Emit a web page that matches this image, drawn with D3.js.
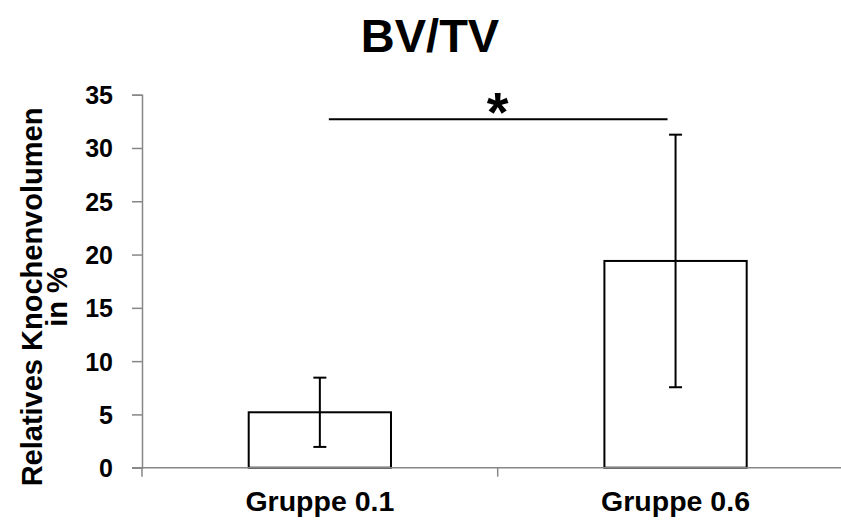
<!DOCTYPE html>
<html>
<head>
<meta charset="utf-8">
<script src="https://cdn.jsdelivr.net/npm/d3@7"></script>
<style>
  body { margin: 0; background: #fff; }
  svg { display: block; font-family: "Liberation Sans", Arial, sans-serif; font-weight: bold; }
</style>
</head>
<body>
<script>
// chart data
const groups = ['Gruppe 0.1', 'Gruppe 0.6'];
const means = [5.2, 19.4];
const errors = [3.25, 11.85];
const yTicks = [0, 5, 10, 15, 20, 25, 30, 35];
const sigLevel = 32.7; // height of the significance bracket, in %
const sigLabel = '*';

const width = 841, height = 523;
const AXIS_COLOR = '#878787';

let svg = d3.select('body')
  .append('svg')
  .attr('width', width)
  .attr('height', height);

svg.append('rect').attr('width', width).attr('height', height).attr('fill', '#fff');

let y = d3.scaleLinear()
  .domain([0, 35])
  .range([467.7, 94.7]);

// bars sit centered in each category, axis runs past the right edge like the original
let x = d3.scaleBand()
  .domain(groups)
  .range([142, 853.4])
  .paddingInner(0.6)
  .paddingOuter(0.3);

// title
svg.append('text')
  .attr('x', 430)
  .attr('y', 52)
  .attr('text-anchor', 'middle')
  .attr('font-size', 47)
  .text('BV/TV');

// y axis
let yAxis = svg.append('g')
  .attr('transform', 'translate(142,0)')
  .call(d3.axisLeft(y).tickValues(yTicks).tickSize(10).tickPadding(19).tickFormat(d3.format('d')));

yAxis.selectAll('path, line').attr('stroke', AXIS_COLOR).attr('stroke-width', 1.5);
yAxis.selectAll('text')
  .attr('font-size', 25)
  .attr('font-family', '"Liberation Sans", Arial, sans-serif')
  .attr('font-weight', 'bold')
  .attr('fill', '#000')
  .attr('dy', '0.36em');

// y axis label, two lines
let yLabel = svg.append('text')
  .attr('transform', 'translate(42,297) rotate(-90)')
  .attr('text-anchor', 'middle')
  .attr('font-size', 29);
yLabel.append('tspan').attr('x', 0).attr('y', 0).text('Relatives Knochenvolumen');
yLabel.append('tspan').attr('x', 0).attr('y', 25).text('in %');

// bars
svg.append('g')
  .selectAll('rect')
  .data(groups)
  .enter()
  .append('rect')
  .attr('x', d => x(d))
  .attr('y', (d, i) => y(means[i]))
  .attr('width', x.bandwidth())
  .attr('height', (d, i) => y(0) - y(means[i]))
  .attr('fill', '#fff')
  .attr('stroke', '#000')
  .attr('stroke-width', 2);

// x axis line + category boundary ticks
let baseY = y(0);
svg.append('line')
  .attr('x1', 132).attr('x2', x.range()[1])
  .attr('y1', baseY).attr('y2', baseY)
  .attr('stroke', AXIS_COLOR).attr('stroke-width', 1.5);

let boundaries = d3.range(groups.length + 1).map(i => x.range()[0] + i * x.step());
svg.append('g')
  .selectAll('line')
  .data(boundaries)
  .enter()
  .append('line')
  .attr('x1', d => d).attr('x2', d => d)
  .attr('y1', baseY).attr('y2', baseY + 9)
  .attr('stroke', AXIS_COLOR).attr('stroke-width', 1.5);

// category labels
svg.append('g')
  .selectAll('text')
  .data(groups)
  .enter()
  .append('text')
  .attr('x', d => x(d) + x.bandwidth() / 2)
  .attr('y', 511)
  .attr('text-anchor', 'middle')
  .attr('font-size', 28.5)
  .text(d => d);

// error bars
let CAP = 6.5;
let err = svg.append('g').attr('stroke', '#000').attr('stroke-width', 2);
groups.forEach(function(g, i) {
  let cx = x(g) + x.bandwidth() / 2;
  let top = y(means[i] + errors[i]);
  let bottom = y(means[i] - errors[i]);
  err.append('line').attr('x1', cx).attr('x2', cx).attr('y1', top).attr('y2', bottom);
  err.append('line').attr('x1', cx - CAP).attr('x2', cx + CAP).attr('y1', top).attr('y2', top);
  err.append('line').attr('x1', cx - CAP).attr('x2', cx + CAP).attr('y1', bottom).attr('y2', bottom);
});

// significance bracket
let c1 = x(groups[0]) + x.bandwidth() / 2,
    c2 = x(groups[1]) + x.bandwidth() / 2;
svg.append('line')
  .attr('x1', c1 + 9).attr('x2', c2 - 8)
  .attr('y1', y(sigLevel)).attr('y2', y(sigLevel))
  .attr('stroke', '#000').attr('stroke-width', 2);

svg.append('text')
  .attr('x', (c1 + c2) / 2)
  .attr('y', y(sigLevel) + 12)
  .attr('text-anchor', 'middle')
  .attr('font-size', 56)
  .text(sigLabel);
</script>
</body>
</html>
